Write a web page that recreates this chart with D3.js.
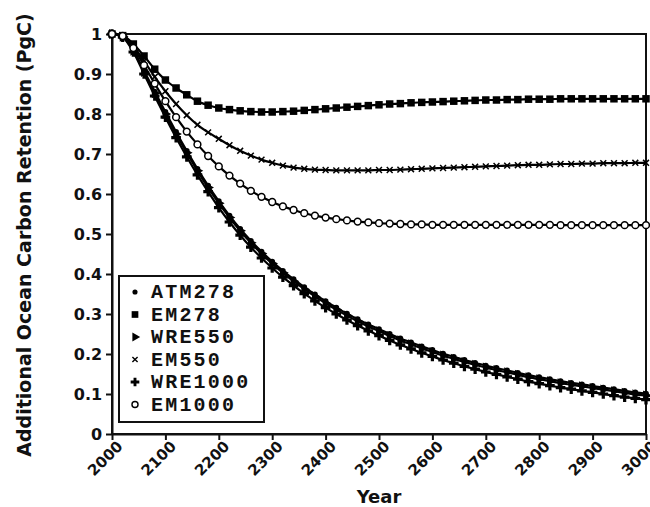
<!DOCTYPE html>
<html lang="en">
<head>
<meta charset="UTF-8">
<title>Additional Ocean Carbon Retention</title>
<script src="https://cdn.jsdelivr.net/npm/d3@7"></script>
<style>
  body { margin: 0; background: #fff; }
  svg text { font-family: "DejaVu Sans", sans-serif; font-weight: bold; fill: #111; }
  .legend text { font-family: "Liberation Mono", "DejaVu Sans Mono", monospace; }
</style>
</head>
<body>
<div id="chart"></div>
<script>
// years sampled every 20 years
const years = [2000,2020,2040,2060,2080,2100,2120,2140,2160,2180,2200,2220,2240,2260,2280,2300,2320,2340,2360,2380,
  2400,2420,2440,2460,2480,2500,2520,2540,2560,2580,2600,2620,2640,2660,2680,2700,2720,2740,2760,2780,
  2800,2820,2840,2860,2880,2900,2920,2940,2960,2980,3000];

const atm278 = [1.000,0.994,0.960,0.908,0.856,0.805,0.755,0.708,0.663,0.621,0.582,0.546,0.513,0.483,0.456,0.431,0.408,0.387,0.367,0.349,
  0.332,0.316,0.301,0.287,0.274,0.262,0.250,0.239,0.229,0.219,0.210,0.201,0.193,0.185,0.178,0.171,0.165,0.159,0.153,0.147,
  0.142,0.137,0.132,0.128,0.124,0.120,0.116,0.112,0.108,0.104,0.101];

const em278 = [1.000,0.996,0.975,0.945,0.912,0.885,0.865,0.848,0.832,0.822,0.815,0.811,0.808,0.806,0.805,0.805,0.806,0.807,0.809,0.811,
  0.813,0.815,0.817,0.819,0.821,0.823,0.825,0.826,0.828,0.829,0.830,0.831,0.832,0.833,0.834,0.835,0.835,0.836,0.836,0.837,
  0.837,0.837,0.838,0.838,0.838,0.838,0.838,0.838,0.838,0.838,0.838];

const wre550 = [1.000,0.993,0.958,0.905,0.852,0.800,0.750,0.703,0.658,0.616,0.577,0.541,0.508,0.478,0.451,0.426,0.403,0.382,0.362,0.344,
  0.327,0.311,0.296,0.282,0.269,0.257,0.245,0.234,0.224,0.214,0.205,0.196,0.188,0.180,0.173,0.166,0.160,0.154,0.148,0.142,
  0.137,0.132,0.127,0.123,0.119,0.115,0.111,0.107,0.103,0.099,0.096];

const em550 = [1.000,0.996,0.970,0.932,0.893,0.857,0.825,0.797,0.773,0.754,0.738,0.722,0.708,0.696,0.686,0.678,0.671,0.666,0.663,0.661,
  0.660,0.659,0.659,0.659,0.659,0.660,0.660,0.661,0.662,0.663,0.664,0.665,0.666,0.667,0.668,0.669,0.670,0.671,0.672,0.673,
  0.673,0.674,0.675,0.675,0.676,0.676,0.677,0.677,0.677,0.678,0.678];

const wre1000 = [1.000,0.992,0.955,0.900,0.845,0.792,0.741,0.693,0.648,0.606,0.566,0.530,0.497,0.467,0.440,0.415,0.392,0.371,0.351,0.333,
  0.316,0.300,0.285,0.271,0.258,0.246,0.234,0.223,0.213,0.203,0.194,0.185,0.177,0.169,0.162,0.155,0.149,0.143,0.137,0.131,
  0.126,0.121,0.116,0.112,0.108,0.104,0.100,0.096,0.092,0.089,0.086];

const em1000 = [1.000,0.995,0.965,0.922,0.876,0.832,0.792,0.756,0.724,0.695,0.669,0.646,0.626,0.608,0.593,0.580,0.569,0.560,0.552,0.546,
  0.541,0.537,0.534,0.531,0.529,0.527,0.526,0.525,0.524,0.524,0.523,0.523,0.523,0.523,0.523,0.523,0.523,0.523,0.523,0.523,
  0.523,0.523,0.522,0.522,0.522,0.522,0.522,0.522,0.522,0.522,0.522];

const seriesNames = ["ATM278", "EM278", "WRE550", "EM550", "WRE1000", "EM1000"];
const seriesValues = [atm278, em278, wre550, em550, wre1000, em1000];

const xTicks = [2000,2100,2200,2300,2400,2500,2600,2700,2800,2900,3000];
const yTicks = [0,0.1,0.2,0.3,0.4,0.5,0.6,0.7,0.8,0.9,1];
const yTickLabels = ["0","0.1","0.2","0.3","0.4","0.5","0.6","0.7","0.8","0.9","1"];

const width = 650, height = 507;
const margin = { top: 34, right: 4, bottom: 73, left: 112 };
const w = width - margin.left - margin.right;
const h = height - margin.top - margin.bottom;

const svg = d3.select("#chart").append("svg")
  .attr("width", width).attr("height", height);
const g = svg.append("g").attr("transform", `translate(${margin.left},${margin.top})`);

const x = d3.scaleLinear().domain([2000, 3000]).range([0, w]);
const y = d3.scaleLinear().domain([0, 1]).range([h, 0]);

// marker shapes for each series
const markers = {
  ATM278:  { type: d3.symbolCircle, size: 26, fill: "#000", stroke: "none", rot: 0 },
  EM278:   { type: d3.symbolSquare, size: 56, fill: "#000", stroke: "none", rot: 0 },
  WRE550:  { type: d3.symbolTriangle, size: 44, fill: "#000", stroke: "none", rot: 90 },
  EM550:   { type: d3.symbolTimes, size: 24, fill: "none", stroke: "#000", rot: 0 },
  WRE1000: { type: d3.symbolCross, size: 52, fill: "#000", stroke: "none", rot: 0 },
  EM1000:  { type: d3.symbolCircle, size: 36, fill: "#fff", stroke: "#000", rot: 0 }
};

// frame
g.append("rect").attr("width", w).attr("height", h)
  .attr("fill", "none").attr("stroke", "#111").attr("stroke-width", 2);

// axes
const xAxis = g.append("g").attr("transform", `translate(0,${h})`)
  .call(d3.axisBottom(x).tickValues(xTicks).tickFormat(d3.format("d")).tickSize(6).tickSizeOuter(0));
xAxis.selectAll("text")
  .attr("font-size", 15)
  .attr("text-anchor", "end")
  .attr("transform", "rotate(-45)")
  .attr("dx", "-0.1em").attr("dy", "0.55em");

const yAxis = g.append("g")
  .call(d3.axisLeft(y).tickValues(yTicks).tickFormat((d, i) => yTickLabels[i]).tickSize(6).tickSizeOuter(0));
yAxis.selectAll("text").attr("font-size", 16).attr("dx", "-0.05em");

[xAxis, yAxis].forEach(a => {
  a.select(".domain").attr("stroke", "#111").attr("stroke-width", 2);
  a.selectAll(".tick line").attr("stroke", "#111").attr("stroke-width", 2);
});

// axis titles
svg.append("text")
  .attr("x", margin.left + w / 2).attr("y", 503)
  .attr("text-anchor", "middle").attr("font-size", 18)
  .text("Year");

svg.append("text")
  .attr("transform", `translate(31,${margin.top + h / 2 + 1}) rotate(-90)`)
  .attr("text-anchor", "middle").attr("font-size", 19)
  .text("Additional Ocean Carbon Retention (PgC)");

// lines and markers
const line = d3.line().x((d, i) => x(years[i])).y(d => y(d)).curve(d3.curveMonotoneX);

function drawMarker(sel, m) {
  sel.append("path")
    .attr("d", d3.symbol().type(m.type).size(m.size))
    .attr("transform", d => `translate(${d[0]},${d[1]}) rotate(${m.rot})`)
    .attr("fill", m.fill)
    .attr("stroke", m.stroke)
    .attr("stroke-width", 1.5);
}

seriesNames.forEach((name, k) => {
  const vals = seriesValues[k];
  g.append("path").datum(vals)
    .attr("d", line)
    .attr("fill", "none").attr("stroke", "#000").attr("stroke-width", 2.2);
  const pts = vals.map((v, i) => [x(years[i]), y(v)]);
  const mg = g.append("g").selectAll("g").data(pts).join("g");
  mg.each(function (d) { drawMarker(d3.select(this).datum(d), markers[name]); });
});

// legend
const legend = svg.append("g").attr("class", "legend");
legend.append("rect")
  .attr("x", 119).attr("y", 276).attr("width", 145).attr("height", 146)
  .attr("fill", "#fff").attr("stroke", "#111").attr("stroke-width", 2);

seriesNames.forEach((name, k) => {
  const ly = 292 + k * 22.5;
  const m = markers[name];
  const lg = legend.append("g");
  lg.append("path")
    .attr("d", d3.symbol().type(m.type).size(m.size * 0.8))
    .attr("transform", `translate(135,${ly}) rotate(${m.rot})`)
    .attr("fill", m.fill).attr("stroke", m.stroke).attr("stroke-width", 1.4);
  lg.append("text")
    .attr("x", 151).attr("y", ly + 6)
    .attr("font-size", 20)
    .attr("letter-spacing", 2.2)
    .text(name);
});
</script>
</body>
</html>
